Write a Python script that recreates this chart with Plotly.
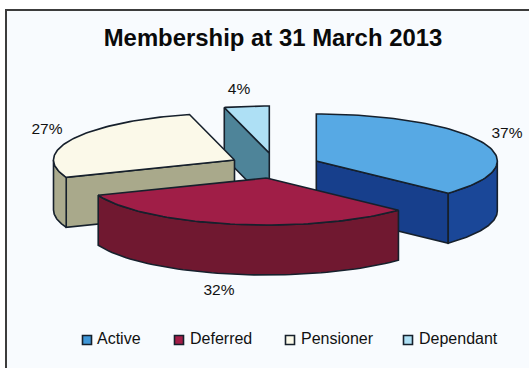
import numpy as np
import plotly.graph_objects as go

categories = ["Active", "Deferred", "Pensioner", "Dependant"]
shares = [37, 32, 27, 4]

top_colours = ["#57A9E4", "#A01E47", "#FBF9E9", "#AEE0F5"]
cut_colours = ["#173F8C", "#701830", "#A9A98B", "#4E8499"]
rim_colours = ["#1A4798", "#701830", "#ABAB8E", "#4E8499"]
swatch_colours = ["#3F97D8", "#A31D47", "#FBF9E9", "#AEE0F5"]

# Pie projection, in pixels: ellipse radii, extrusion depth and the exploded apex of each slice
RX, RY, DEPTH = 181, 47, 50
apex_x = [316.3, 266.5, 234.5, 269.3]
apex_y = [161, 178, 160, 153]
label_x = [507, 219, 47, 239]
label_y = [134, 291, 130, 90]
swatch_x = [87, 179, 290, 408]
legend_text_x = [97, 190, 301, 419]
LEGEND_Y = 340
OUTLINE = "#16202c"


def rim_point(cx, cy, deg):
    a = np.radians(deg)
    return cx + RX * np.sin(a), cy - RY * np.cos(a)


def polygon(xs, ys, fill):
    return go.Scatter(x=list(xs), y=list(ys), mode="lines", fill="toself", fillcolor=fill,
                      line=dict(color=OUTLINE, width=1.6), hoverinfo="skip", showlegend=False)


fig = go.Figure()
boundaries = np.concatenate([[0], np.cumsum(shares) / sum(shares) * 360])

# Slices are layered back to front so the front slice overlaps its neighbours
for i in [3, 2, 0, 1]:
    start, end = boundaries[i], boundaries[i + 1]
    cx, cy = apex_x[i], apex_y[i]
    mid_x, mid_y = rim_point(cx, cy, (start + end) / 2)

    # A cut face shows only when the slice's surface lies above its edge
    for edge in (start, end):
        ex, ey = rim_point(cx, cy, edge)
        if abs(ex - cx) < 1:
            continue
        line_y = cy + (ey - cy) * (mid_x - cx) / (ex - cx)
        if mid_y < line_y:
            fig.add_trace(polygon([cx, ex, ex, cx, cx],
                                  [cy, ey, ey + DEPTH, cy + DEPTH, cy], cut_colours[i]))

    # The outer wall is visible on the front half of the ellipse only
    lo, hi = max(start, 90), min(end, 270)
    if lo < hi:
        t = np.linspace(lo, hi, 60)
        rx, ry = rim_point(cx, cy, t)
        fig.add_trace(polygon(np.r_[rx, rx[::-1], rx[0]],
                              np.r_[ry, ry[::-1] + DEPTH, ry[0]], rim_colours[i]))

    t = np.linspace(start, end, 80)
    rx, ry = rim_point(cx, cy, t)
    fig.add_trace(polygon(np.r_[cx, rx, cx], np.r_[cy, ry, cy], top_colours[i]))

fig.add_trace(go.Scatter(x=label_x, y=label_y, mode="text",
                         text=[f"{s}%" for s in shares], textposition="middle center",
                         textfont=dict(size=15.5, color="#111111"),
                         hoverinfo="skip", showlegend=False))

fig.add_trace(go.Scatter(x=swatch_x, y=[LEGEND_Y] * 4, mode="markers",
                         marker=dict(symbol="square", size=9, color=swatch_colours,
                                     line=dict(color="#16202c", width=1.6)),
                         hoverinfo="skip", showlegend=False))
fig.add_trace(go.Scatter(x=legend_text_x, y=[LEGEND_Y] * 4, mode="text",
                         text=categories, textposition="middle right",
                         textfont=dict(size=16, color="#111111"),
                         hoverinfo="skip", showlegend=False))

fig.update_layout(
    width=529, height=368, margin=dict(l=0, r=0, t=0, b=0),
    paper_bgcolor="#FFFFFF", plot_bgcolor="#FFFFFF", showlegend=False,
    font=dict(family="Liberation Sans, Arial, sans-serif"),
    title=dict(text="Membership at 31 March 2013", x=273 / 529, xanchor="center",
               y=1 - 38 / 368, yanchor="middle", font=dict(size=23.9, color="#0a0a0a", weight=700)),
    xaxis=dict(range=[0, 529], visible=False, fixedrange=True),
    yaxis=dict(range=[368, 0], visible=False, fixedrange=True),
    shapes=[
        dict(type="rect", xref="x", yref="y", x0=6, y0=10, x1=540, y1=380, layer="below",
             fillcolor="#F8FBFE", line=dict(color="#3c3c3c", width=2)),
    ],
)

fig.write_html("out.html")
